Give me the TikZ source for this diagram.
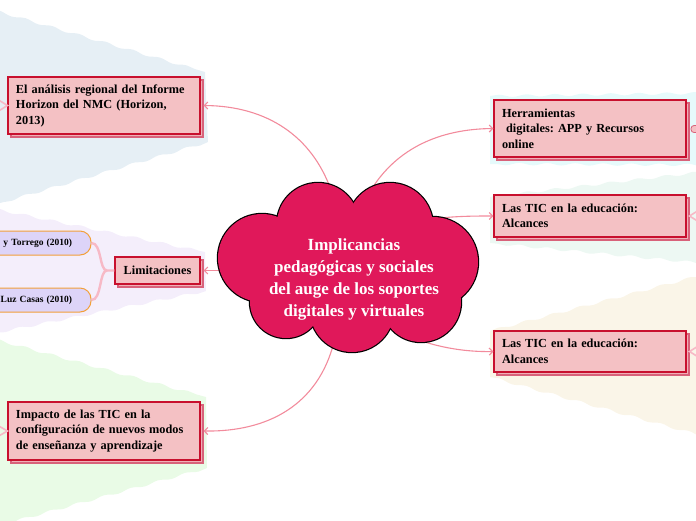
\documentclass[tikz,border=0pt]{standalone}
\usepackage{fontspec}
\setmainfont{Liberation Serif}
\frenchspacing
\usetikzlibrary{arrows.meta,shadows,decorations.pathmorphing}
\definecolor{bgblue}{HTML}{E6EFF5}
\definecolor{bglav}{HTML}{F4EEFB}
\definecolor{bggreen}{HTML}{E9FBE6}
\definecolor{bgcyan}{HTML}{E6FAFB}
\definecolor{bgmint}{HTML}{EDF8F3}
\definecolor{bgcream}{HTML}{FAF5E8}
\definecolor{boxfill}{HTML}{F4C1C4}
\definecolor{boxdraw}{HTML}{C8102E}
\definecolor{shfill}{HTML}{EFB0B7}
\definecolor{shdraw}{HTML}{D8627A}
\definecolor{linkc}{HTML}{F28B9C}
\definecolor{forkc}{HTML}{F7B9C6}
\definecolor{cloudc}{HTML}{E0185A}
\definecolor{pillfill}{HTML}{DDD4F8}
\definecolor{pilldraw}{HTML}{F2A03A}
\tikzset{
  wave/.style={decoration={snake, amplitude=1.2pt, segment length=28pt}},
  topic/.style={rectangle, draw=boxdraw, fill=boxfill, line width=1.1pt,
    copy shadow={shadow xshift=3pt, shadow yshift=-3pt, fill=shfill, draw=shdraw, line width=1.1pt},
    font=\bfseries\fontsize{12.3}{15.5}\selectfont, text=black, align=left,
    inner xsep=8pt, inner ysep=4pt, anchor=center},
  pillbox/.style={rectangle, rounded corners=11pt, draw=pilldraw, fill=pillfill, line width=1pt,
    font=\bfseries\fontsize{9.5}{11}\selectfont, text width=100pt, align=right,
    inner xsep=19pt, minimum height=24pt},
  link/.style={draw=linkc, line width=1.1pt, -{Straight Barb[length=3.5pt,width=7pt]}},
  fork/.style={draw=forkc, line width=2.4pt},
}
\begin{document}
\begin{tikzpicture}[x=1pt,y=-1pt]
\useasboundingbox (0,0) rectangle (696,520);
\clip (0,0) rectangle (696,520);
% background regions
\fill[bgblue, wave] (-10,9) decorate{-- (205,72)} -- (208,142) decorate{-- (-10,206)} -- cycle;
\fill[bglav, wave] (-10,208) decorate{-- (205,252)} -- (206,291) decorate{-- (-10,334)} -- cycle;
\fill[bggreen, wave] (-10,338) decorate{-- (206,397)} -- (207,468) decorate{-- (-10,528)} -- cycle;
\fill[bgcyan, wave] (490,96) decorate{-- (710,93)} -- (710,165) decorate{-- (490,164)} -- cycle;
\fill[bgmint, wave] (490,197) decorate{-- (710,171)} -- (710,264) decorate{-- (490,243)} -- cycle;
\fill[bgcream, wave] (490,331) decorate{-- (710,273)} -- (710,438) decorate{-- (490,377)} -- cycle;

% topic boxes
\node[topic, minimum width=192pt, minimum height=57pt, text width=176pt] (b1) at (104,105.5)
  {El análisis regional del Informe\\Horizon del NMC (Horizon,\\2013)};
\node[topic, minimum width=85pt, minimum height=27pt] (lim) at (157.5,270.5) {Limitaciones};
\node[topic, minimum width=192pt, minimum height=58pt, text width=176pt] (b3) at (104,431)
  {Impacto de las TIC en la\\configuración de nuevos modos\\de enseñanza y aprendizaje};
\node[topic, minimum width=192pt, minimum height=57pt, text width=176pt] (r1) at (590,128.5)
  {Herramientas\\\ digitales: APP y Recursos\\online};
\node[topic, minimum width=192pt, minimum height=42pt, text width=176pt] (r2) at (590,216)
  {Las TIC en la educación:\\Alcances};
\node[topic, minimum width=192pt, minimum height=41pt, text width=176pt] (r3) at (590,351.5)
  {Las TIC en la educación:\\Alcances};

% pills
\node[pillbox] (p1) at (22,243) {y Torrego (2010)};
\node[pillbox] (p2) at (22,300) {Luz Casas (2010)};

% forks
\coordinate (lf) at (107,270.5);
\draw[fork] (lim.west) -- (lf) .. controls (99,270.5) and (102,243) .. (p1.east);
\draw[fork] (lf) .. controls (99,270.5) and (102,300) .. (p2.east);
\coordinate (b1a) at (-3,99); \coordinate (b1b) at (-3,112);
\draw[fork, line width=1.6pt] (b1a) -- (b1.west) -- (b1b);
\coordinate (b3a) at (-3,425); \coordinate (b3b) at (-3,437);
\draw[fork, line width=1.6pt] (b3a) -- (b3.west) -- (b3b);
\coordinate (r2a) at (699,210); \coordinate (r2b) at (699,222);
\draw[fork, line width=1.6pt] (r2a) -- ([xshift=3pt]r2.east) -- (r2b);
\coordinate (r3a) at (699,345.5); \coordinate (r3b) at (699,357.5);
\draw[fork, line width=1.6pt] (r3a) -- ([xshift=3pt]r3.east) -- (r3b);
\node[draw=shdraw, fill=boxfill, rounded corners=3pt, minimum width=10pt, minimum height=7pt, inner sep=0pt, line width=0.8pt] (r1c) at (696,129) {};

% connectors from the central idea
\coordinate (c1) at (331,190);
\coordinate (c2) at (222,270.5);
\coordinate (c3) at (334,342);
\coordinate (c4) at (371,190);
\coordinate (c5) at (432,219);
\coordinate (c6) at (408,336);
\draw[link] (c1) .. controls (312,137) and (268,106) .. ([xshift=3pt]b1.east);
\draw[link] (c2) -- ([xshift=3pt]lim.east);
\draw[link] (c3) .. controls (318,405) and (268,432) .. ([xshift=3pt]b3.east);
\draw[link] (c4) .. controls (397,148) and (440,129) .. (r1.west);
\draw[link] (c5) .. controls (455,216) and (475,216) .. (r2.west);
\draw[link] (c6) .. controls (440,349) and (470,352) .. (r3.west);

% cloud (union of circles)
\foreach \cx/\cy/\r in {262/258/44, 318/224/41, 390/226/43, 433/262/45, 421/302/40, 352/310/42, 286/302/36}{
  \draw[black, line width=2.4pt] (\cx,\cy) circle (\r pt);
}
\foreach \cx/\cy/\r in {262/258/44, 318/224/41, 390/226/43, 433/262/45, 421/302/40, 352/310/42, 286/302/36}{
  \fill[cloudc] (\cx,\cy) circle (\r pt);
}
\fill[cloudc] (350,268) ellipse (95pt and 55pt);
\node[align=center, text=white, font=\bfseries\fontsize{17}{22}\selectfont] (hub) at (354,279)
  {Implicancias\\pedagógicas y sociales\\del auge de los soportes\\digitales y virtuales};
\end{tikzpicture}
\end{document}
